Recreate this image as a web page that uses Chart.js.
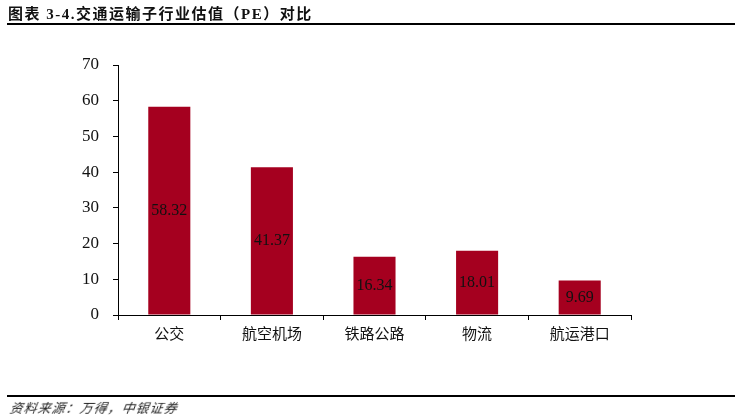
<!DOCTYPE html>
<html>
<head>
<meta charset="utf-8">
<script src="https://cdn.jsdelivr.net/npm/chart.js@4.4.0/dist/chart.umd.min.js"></script>
<style>
  html, body { margin: 0; padding: 0; background: #fff; }
  #wrap { position: relative; width: 735px; height: 416px; overflow: hidden; }
  #title {
    position: absolute; left: 8px; top: 2px; letter-spacing: 1.5px;
    font: bold 15px "Liberation Serif", "Noto Sans CJK SC", serif; color: #111;
  }
  #rule1 { position: absolute; left: 7px; right: 0; top: 23px; height: 2px; background: #000; }
  #rule2 { position: absolute; left: 7px; right: 0; top: 395px; height: 2px; background: #000; }
  #source {
    position: absolute; left: 10px; top: 398px; letter-spacing: 1px;
    font: italic 13px "Noto Sans CJK SC", sans-serif; color: #222; transform: skewX(-10deg);
  }
  canvas { position: absolute; left: 0; top: 0; }
</style>
</head>
<body>
<div id="wrap">
  <canvas id="pe" width="735" height="416"></canvas>
  <div id="title">图表 3-4.交通运输子行业估值（PE）对比</div>
  <div id="rule1"></div>
  <div id="rule2"></div>
  <div id="source">资料来源：万得，中银证券</div>
</div>
<script>
  // 子行业与估值
  const categories = ['公交', '航空机场', '铁路公路', '物流', '航运港口'];
  const peValues = [58.32, 41.37, 16.34, 18.01, 9.69];
  const yTicks = [0, 10, 20, 30, 40, 50, 60, 70];

  // 柱子中间写数值
  const barLabels = {
    id: 'barLabels',
    afterDatasetsDraw(chart) {
      const ctx = chart.ctx;
      const meta = chart.getDatasetMeta(0);
      ctx.save();
      ctx.font = '16px "Liberation Serif", serif';
      ctx.fillStyle = '#111';
      ctx.textAlign = 'center';
      ctx.textBaseline = 'middle';
      meta.data.forEach((bar, i) => {
        const v = peValues[i];
        const y = (bar.y + bar.base) / 2;
        ctx.fillText(v.toFixed(2), bar.x, y);
      });
      ctx.restore();
    }
  };

  new Chart(document.getElementById('pe').getContext('2d'), {
    type: 'bar',
    data: {
      labels: categories,
      datasets: [{
        data: peValues,
        backgroundColor: '#A5001F',
        borderWidth: 0,
        barPercentage: 0.41,
        categoryPercentage: 1
      }]
    },
    options: {
      responsive: false,
      animation: false,
      events: [],
      layout: { padding: { left: 50, right: 104, top: 65, bottom: 71 } },
      plugins: { legend: { display: false }, tooltip: { enabled: false } },
      scales: {
        x: {
          afterFit: (s) => { s.height = 30; },
          border: { display: true, color: '#000', width: 1 },
          grid: { display: true, drawOnChartArea: false, drawTicks: true, tickLength: 5, color: '#000' },
          ticks: { color: '#111', padding: 4, font: { family: '"Noto Sans CJK SC", sans-serif', size: 15 } }
        },
        y: {
          min: 0, max: 70,
          afterFit: (s) => { s.width = 68; },
          afterBuildTicks: (s) => { s.ticks = yTicks.map(v => ({ value: v })); },
          border: { display: true, color: '#000', width: 1 },
          grid: { display: true, drawOnChartArea: false, drawTicks: true, tickLength: 5, color: '#000' },
          ticks: { color: '#111', padding: 14, font: { family: '"Liberation Serif", serif', size: 17 } }
        }
      }
    },
    plugins: [barLabels]
  });
</script>
</body>
</html>
